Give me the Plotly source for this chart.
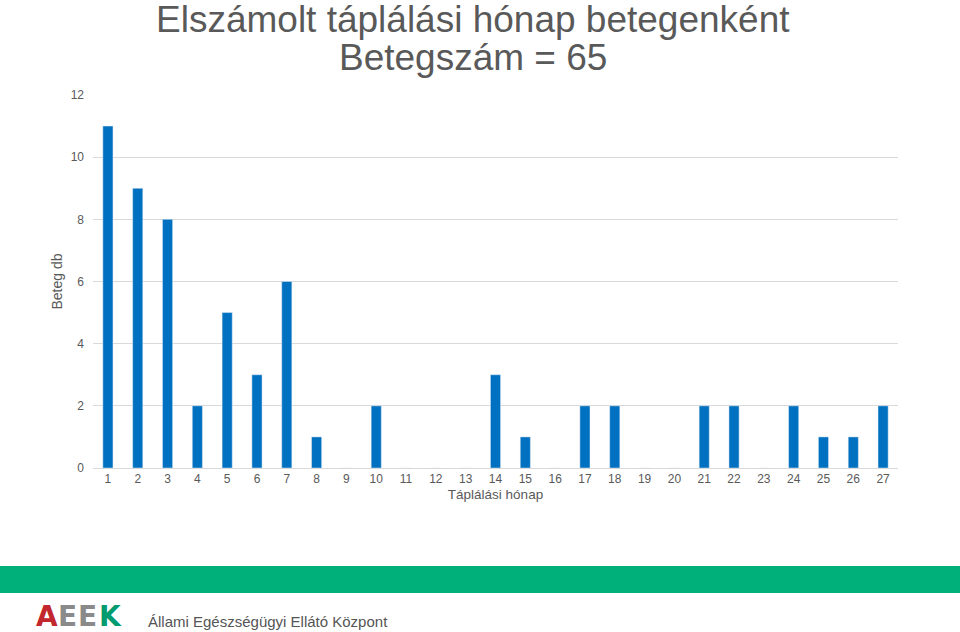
import plotly.graph_objects as go

# Táplálási hónap (1..27) és a betegek száma
honapok = [str(i) for i in range(1, 28)]
beteg_db = [11, 9, 8, 2, 5, 3, 6, 1, 0, 2, 0, 0, 0, 3, 1, 0, 2, 2, 0, 0, 2, 2, 0, 2, 1, 1, 2]
y_ticks = [0, 2, 4, 6, 8, 10, 12]

W, H = 960, 632
L, R, T, B = 93, 62, 95, 164
plot_h = H - T - B
plot_w = W - L - R


def py(pix):
    # pixel y -> paper y
    return (H - B - pix) / plot_h


def px_(pix):
    return (pix - L) / plot_w


grey = "#595959"
font = "Liberation Sans, Arial, sans-serif"

fig = go.Figure(go.Bar(x=honapok, y=beteg_db, marker_color="#0070c0", width=0.34))

fig.update_layout(
    width=W, height=H,
    margin=dict(l=L, r=R, t=T, b=B),
    paper_bgcolor="white", plot_bgcolor="white",
    font=dict(family=font, color=grey, size=12),
    showlegend=False,
    xaxis=dict(type="category", showgrid=False, showline=True, linecolor="#d9d9d9",
               ticks="", tickfont=dict(size=12, color=grey),
               title=dict(text="Táplálási hónap", font=dict(size=13.5, color=grey), standoff=4)),
    yaxis=dict(range=[0, 12], tickvals=y_ticks, gridcolor="#d9d9d9", zeroline=False,
               ticks="", tickfont=dict(size=12, color=grey), ticklabelstandoff=8,
               title=dict(text="Beteg db", font=dict(size=14, color=grey), standoff=4)),
)

logo_font = "DejaVu Sans, sans-serif"
annotations = [
    dict(text="Elszámolt táplálási hónap betegenként", x=px_(473), y=py(19), font=dict(size=37, color=grey)),
    dict(text="Betegszám = 65", x=px_(473), y=py(58), font=dict(size=37, color=grey)),
    dict(text="Állami Egészségügyi Ellátó Központ", x=px_(146), y=py(621), xanchor="left",
         font=dict(size=15, color="#555555")),
    dict(text="<b>A</b>", x=px_(34), y=py(616), xanchor="left",
         font=dict(size=28, family=logo_font, color="#c1272d")),
    dict(text="<b>E</b>", x=px_(56), y=py(616), xanchor="left",
         font=dict(size=28, family=logo_font, color="#8a8a8a")),
    dict(text="<b>E</b>", x=px_(76), y=py(616), xanchor="left",
         font=dict(size=28, family=logo_font, color="#8a8a8a")),
    dict(text="<b>K</b>", x=px_(97), y=py(616), xanchor="left",
         font=dict(size=28, family=logo_font, color="#009b6e")),
]
for a in annotations:
    a.update(xref="paper", yref="paper", showarrow=False)
    a.setdefault("xanchor", "center")
    a.setdefault("yanchor", "middle")
fig.update_layout(annotations=annotations)

fig.add_shape(type="rect", xref="paper", yref="paper",
              x0=px_(0), x1=px_(W), y0=py(593), y1=py(566),
              fillcolor="#00b07a", line_width=0, layer="below")

# drop the default 8px body margin so the figure sits at the page corner
fig.write_html("out.html", config={"displayModeBar": False},
               post_script="document.body.style.margin='0px';")
